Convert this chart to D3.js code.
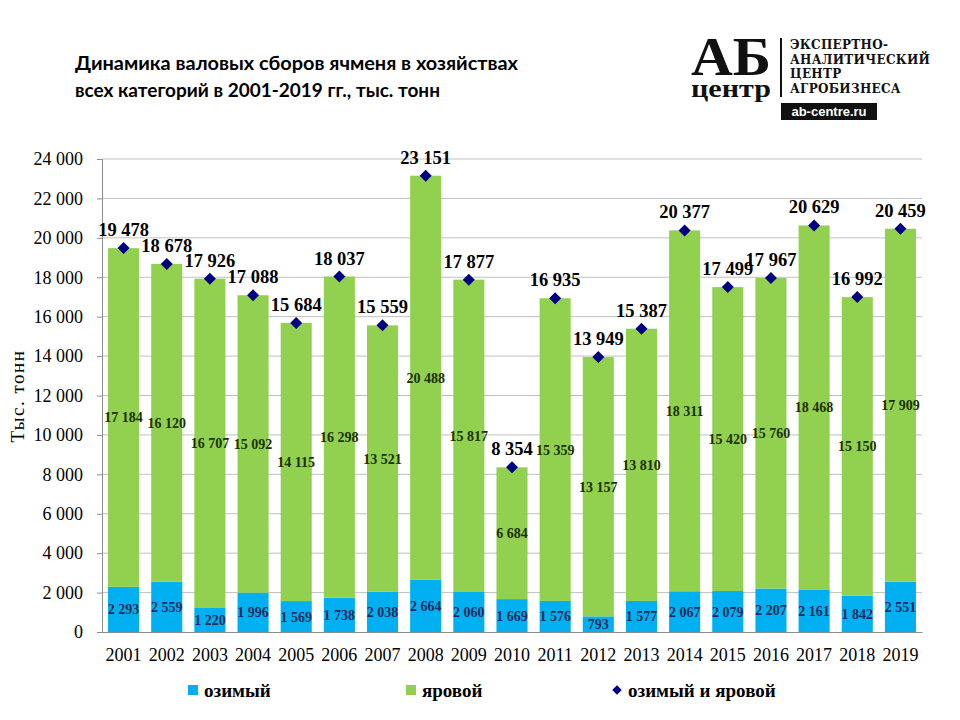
<!DOCTYPE html>
<html><head><meta charset="utf-8">
<script src="https://cdn.jsdelivr.net/npm/d3@7"></script>
<style>
body{margin:0;background:#fff;}
svg{display:block;}
</style></head>
<body>
<svg id="chart" width="960" height="720"></svg>
<script>
const years = ["2001","2002","2003","2004","2005","2006","2007","2008","2009","2010","2011","2012","2013","2014","2015","2016","2017","2018","2019"];
const winter = [2293,2559,1220,1996,1569,1738,2038,2664,2060,1669,1576,793,1577,2067,2079,2207,2161,1842,2551];
const spring = [17184,16120,16707,15092,14115,16298,13521,20488,15817,6684,15359,13157,13810,18311,15420,15760,18468,15150,17909];
const total = [19478,18678,17926,17088,15684,18037,15559,23151,17877,8354,16935,13949,15387,20377,17499,17967,20629,16992,20459];
const yTicks = [0,2000,4000,6000,8000,10000,12000,14000,16000,18000,20000,22000,24000];
const seriesNames = ["озимый","яровой","озимый и яровой"];

const svg = d3.select("#chart");
const margin = {left:102, top:159, right:922, bottom:632};
const fmt = v => d3.format(",")(v).replace(/,/g, "\u00a0");

const x = d3.scaleBand().domain(years).range([margin.left, margin.right]).paddingInner(0.28).paddingOuter(0.14);
const y = d3.scaleLinear().domain([0,24000]).range([margin.bottom, margin.top]);

const serif = "'Liberation Serif','Times New Roman',serif";

// gridlines
svg.append("g").selectAll("line").data(yTicks.filter(d=>d>0)).join("line")
  .attr("x1", margin.left).attr("x2", margin.right)
  .attr("y1", d=>y(d)).attr("y2", d=>y(d))
  .attr("stroke", "#c0c0c0").attr("stroke-width", 1);

// y axis
const yAxis = d3.axisLeft(y).tickValues(yTicks).tickFormat(fmt).tickSize(5).tickPadding(14);
const gy = svg.append("g").attr("transform", `translate(${margin.left},0)`).call(yAxis);
gy.select(".domain").attr("stroke", "#8c8c8c");
gy.selectAll(".tick line").attr("stroke", "#8c8c8c");
gy.selectAll("text").attr("font-family", serif).attr("font-size", 18).attr("fill", "#000");

// x axis
const xAxis = d3.axisBottom(x).tickSize(0).tickPadding(16);
const gx = svg.append("g").attr("transform", `translate(0,${margin.bottom})`).call(xAxis);
gx.select(".domain").attr("stroke", "#8c8c8c");
gx.selectAll("text").attr("font-family", serif).attr("font-size", 18).attr("fill", "#000");

// bars
const rows = years.map((yr,i)=>({yr, w:winter[i], s:spring[i], t:total[i]}));
const bars = svg.append("g");
bars.selectAll("rect.w").data(rows).join("rect").attr("class","w")
  .attr("x", d=>x(d.yr)).attr("width", x.bandwidth())
  .attr("y", d=>y(d.w)).attr("height", d=>y(0)-y(d.w))
  .attr("fill", "#00b0f0");
bars.selectAll("rect.s").data(rows).join("rect").attr("class","s")
  .attr("x", d=>x(d.yr)).attr("width", x.bandwidth())
  .attr("y", d=>y(d.w+d.s)).attr("height", d=>y(d.w)-y(d.w+d.s))
  .attr("fill", "#92d050");

// segment labels
const cx = d => x(d.yr) + x.bandwidth()/2;
svg.append("g").selectAll("text").data(rows).join("text")
  .attr("x", cx).attr("y", d=>y(d.w/2)+5)
  .attr("text-anchor","middle").attr("font-family", serif).attr("font-weight","bold")
  .attr("font-size", 14).attr("fill", "#1f2a5c").text(d=>fmt(d.w));
svg.append("g").selectAll("text").data(rows).join("text")
  .attr("x", cx).attr("y", d=>y(d.w + d.s/2)+5)
  .attr("text-anchor","middle").attr("font-family", serif).attr("font-weight","bold")
  .attr("font-size", 14).attr("fill", "#1b3000").text(d=>fmt(d.s));

// total markers
const diamond = d3.symbol().type(d3.symbolSquare).size(72);
svg.append("g").selectAll("path").data(rows).join("path")
  .attr("transform", d=>`translate(${cx(d)},${y(d.t)}) rotate(45)`)
  .attr("d", diamond).attr("fill", "#000080");
svg.append("g").selectAll("text").data(rows).join("text")
  .attr("x", cx).attr("y", d=>y(d.t)-12)
  .attr("text-anchor","middle").attr("font-family", serif).attr("font-weight","bold")
  .attr("font-size", 18.5).attr("fill", "#000").text(d=>fmt(d.t));

// y axis title
svg.append("text").attr("transform", "translate(24,396) rotate(-90)")
  .attr("text-anchor","middle").attr("font-family", serif).attr("font-size", 19)
  .attr("fill","#000").attr("letter-spacing", 1.5).text("Тыс.  тонн");

// title
const title = svg.append("text").attr("font-family","Lato, 'Open Sans', sans-serif")
  .attr("font-weight","bold").attr("font-size", 19).attr("fill","#000");
title.append("tspan").attr("x", 75).attr("y", 70).attr("textLength", 443).attr("lengthAdjust","spacingAndGlyphs")
  .text("Динамика валовых сборов ячменя в хозяйствах");
title.append("tspan").attr("x", 75).attr("y", 97).attr("textLength", 365).attr("lengthAdjust","spacingAndGlyphs")
  .text("всех категорий в 2001-2019 гг., тыс. тонн");

// legend
const legendX = [188, 406, 612];
const lg = svg.append("g");
lg.append("rect").attr("x", legendX[0]).attr("y", 685).attr("width", 10).attr("height", 10).attr("fill", "#00b0f0");
lg.append("rect").attr("x", legendX[1]).attr("y", 685).attr("width", 10).attr("height", 10).attr("fill", "#92d050");
lg.append("path").attr("transform", `translate(${legendX[2]+5},690) rotate(45)`).attr("d", d3.symbol().type(d3.symbolSquare).size(45)).attr("fill","#000080");
seriesNames.forEach((n,i)=>{
  lg.append("text").attr("x", legendX[i]+16).attr("y", 697).attr("font-family", serif)
    .attr("font-weight","bold").attr("font-size", 19).attr("fill","#000").text(n);
});

// logo
const logo = svg.append("g");
logo.append("text").attr("x", 691).attr("y", 75).attr("font-family", serif).attr("font-weight","bold")
  .attr("font-size", 54).attr("fill","#111").attr("textLength", 80).attr("lengthAdjust","spacingAndGlyphs").text("АБ");
logo.append("text").attr("x", 691).attr("y", 97).attr("font-family", serif).attr("font-weight","bold")
  .attr("font-size", 26).attr("fill","#111").attr("textLength", 80).attr("lengthAdjust","spacingAndGlyphs").text("центр");
logo.append("line").attr("x1", 781).attr("x2", 781).attr("y1", 38).attr("y2", 97).attr("stroke","#111").attr("stroke-width", 2);
["ЭКСПЕРТНО-","АНАЛИТИЧЕСКИЙ","ЦЕНТР","АГРОБИЗНЕСА"].forEach((t,i)=>{
  logo.append("text").attr("x", 790).attr("y", 49 + i*14.5).attr("font-family","'DejaVu Serif', serif")
    .attr("font-weight","bold").attr("font-size", 12).attr("fill","#111").attr("letter-spacing", 0.3).text(t);
});
logo.append("rect").attr("x", 781).attr("y", 103).attr("width", 96).attr("height", 17).attr("fill","#111");
logo.append("text").attr("x", 829).attr("y", 116).attr("text-anchor","middle").attr("font-family","'Liberation Sans', Arial, sans-serif")
  .attr("font-weight","bold").attr("font-size", 13).attr("fill","#fff").text("ab-centre.ru");
</script>
</body></html>
